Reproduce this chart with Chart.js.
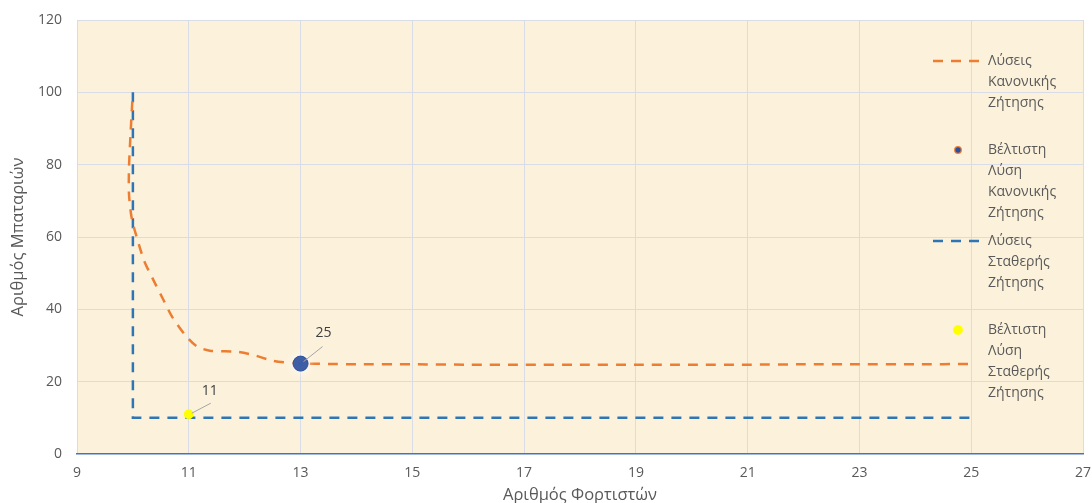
<!DOCTYPE html>
<html lang="el">
<head>
<meta charset="utf-8">
<title>Αριθμός Μπαταριών – Αριθμός Φορτιστών</title>
<script src="https://cdn.jsdelivr.net/npm/chart.js@4.4.1/dist/chart.umd.min.js"></script>
<style>
  html, body { margin: 0; padding: 0; background: #ffffff; }
  #wrap { position: relative; width: 1092px; height: 503px; }
</style>
</head>
<body>
<div id="wrap"><canvas id="chart" width="1092" height="503"></canvas></div>
<script>
// Solutions for normally distributed demand (chargers, batteries)
const normalX = [9.99, 9.96, 9.93, 9.93, 9.97, 10.03, 10.2, 10.37, 10.55, 10.7, 10.93, 11.15, 11.4, 11.85, 12.15, 12.5, 12.9, 13.5, 14, 15, 16, 17, 18, 19, 20, 21, 22, 23, 24, 25];
const normalY = [97.5, 89, 79, 72, 66, 62, 53.5, 48, 42.5, 38, 33, 29.7, 28.5, 28.3, 27.4, 25.8, 25.1, 24.9, 24.8, 24.8, 24.7, 24.7, 24.7, 24.7, 24.7, 24.7, 24.8, 24.8, 24.8, 24.9];

// Solutions for fixed demand
const fixedX = [10, 10, 25];
const fixedY = [100, 10, 10];

// Optimal solutions
const bestNormalX = [13];
const bestNormalY = [25];
const bestFixedX = [11];
const bestFixedY = [11];

// Axes
const xMin = 9, xMax = 27, xStep = 2;
const yMin = 0, yMax = 120, yStep = 20;
const xTitle = 'Αριθμός Φορτιστών';
const yTitle = 'Αριθμός Μπαταριών';

// Legend text, one array of lines per series
const seriesNames = [
  ['Λύσεις', 'Κανονικής', 'Ζήτησης'],
  ['Βέλτιστη', 'Λύση', 'Κανονικής', 'Ζήτησης'],
  ['Λύσεις', 'Σταθερής', 'Ζήτησης'],
  ['Βέλτιστη', 'Λύση', 'Σταθερής', 'Ζήτησης']
];

const toPoints = (xs, ys) => xs.map((x, i) => ({ x: x, y: ys[i] }));

const ORANGE = '#ED7D31';
const BLUE = '#2E75B6';
const DARKBLUE = '#2C509E';
const YELLOW = '#FFFF00';
const TEXT = '#595959';
const FONT = "'Open Sans', 'DejaVu Sans', sans-serif";

// Parchment-coloured plot area
const plotBackground = {
  id: 'plotBackground',
  beforeDraw(chart) {
    const { ctx, chartArea: a } = chart;
    ctx.save();
    ctx.fillStyle = '#FCF2DC';
    ctx.fillRect(a.left, a.top, a.right - a.left, a.bottom - a.top);
    ctx.restore();
  }
};

// Soft white halo behind marked points
const pointHalo = {
  id: 'pointHalo',
  beforeDatasetDraw(chart, args) {
    const ds = chart.data.datasets[args.index];
    if (ds.halo) {
      chart.ctx.save();
      chart.ctx.shadowColor = 'rgba(255,255,255,0.95)';
      chart.ctx.shadowBlur = ds.halo;
    }
  },
  afterDatasetDraw(chart, args) {
    const ds = chart.data.datasets[args.index];
    if (ds.halo) chart.ctx.restore();
  }
};

// Value labels with a short leader line
const valueLabels = {
  id: 'valueLabels',
  afterDatasetsDraw(chart) {
    const ctx = chart.ctx;
    chart.data.datasets.forEach((ds, i) => {
      if (!ds.valueLabel) return;
      const meta = chart.getDatasetMeta(i);
      meta.data.forEach((el, j) => {
        const o = ds.valueLabel;
        const px = el.x, py = el.y;
        ctx.save();
        ctx.strokeStyle = '#A6A6A6';
        ctx.lineWidth = 1;
        ctx.beginPath();
        ctx.moveTo(px + o.lx0, py + o.ly0);
        ctx.lineTo(px + o.lx1, py + o.ly1);
        ctx.stroke();
        ctx.fillStyle = '#404040';
        ctx.font = '14px ' + FONT;
        ctx.textAlign = 'center';
        ctx.textBaseline = 'middle';
        ctx.fillText(String(ds.data[j].y), px + o.tx, py + o.ty);
        ctx.restore();
      });
    });
  }
};

// Legend laid over the right side of the plot area, with wrapped names
const sideLegend = {
  id: 'sideLegend',
  afterDraw(chart) {
    const { ctx, chartArea: a } = chart;
    const itemTops = [41, 130, 221, 310];
    const lineH = 21;
    const sampleL = a.right - 150, sampleR = a.right - 100;
    const textX = a.right - 95;
    chart.data.datasets.forEach((ds, i) => {
      const y0 = a.top + itemTops[i];
      ctx.save();
      if (ds.showLine) {
        ctx.strokeStyle = ds.borderColor;
        ctx.lineWidth = ds.borderWidth;
        ctx.setLineDash(ds.borderDash || []);
        ctx.beginPath();
        ctx.moveTo(sampleL, y0);
        ctx.lineTo(sampleR, y0);
        ctx.stroke();
        ctx.setLineDash([]);
      } else {
        ctx.fillStyle = ds.backgroundColor;
        ctx.strokeStyle = ds.legendBorder || ds.backgroundColor;
        ctx.lineWidth = 1.2;
        ctx.beginPath();
        ctx.arc((sampleL + sampleR) / 2, y0, ds.legendRadius, 0, Math.PI * 2);
        ctx.fill();
        ctx.stroke();
      }
      ctx.fillStyle = TEXT;
      ctx.font = '14px ' + FONT;
      ctx.textAlign = 'left';
      ctx.textBaseline = 'middle';
      seriesNames[i].forEach((line, k) => ctx.fillText(line, textX, y0 + k * lineH));
      ctx.restore();
    });
  }
};

const gridColor = '#D8DCE6';

new Chart(document.getElementById('chart'), {
  type: 'scatter',
  data: {
    datasets: [
      {
        label: seriesNames[0].join(' '),
        data: toPoints(normalX, normalY),
        showLine: true,
        borderColor: ORANGE,
        backgroundColor: ORANGE,
        borderWidth: 2.5,
        borderDash: [10, 8],
        pointRadius: 0,
        pointHoverRadius: 0,
        tension: 0.25,
        order: 3
      },
      {
        label: seriesNames[1].join(' '),
        data: toPoints(bestNormalX, bestNormalY),
        showLine: false,
        backgroundColor: DARKBLUE,
        borderColor: DARKBLUE,
        borderWidth: 1,
        pointRadius: 7.5,
        legendRadius: 3.3,
        legendBorder: ORANGE,
        halo: 8,
        valueLabel: { lx0: 3, ly0: -2, lx1: 22, ly1: -17, tx: 23, ty: -31 },
        order: 1
      },
      {
        label: seriesNames[2].join(' '),
        data: toPoints(fixedX, fixedY),
        showLine: true,
        borderColor: BLUE,
        backgroundColor: BLUE,
        borderWidth: 2.5,
        borderDash: [10, 8],
        pointRadius: 0,
        pointHoverRadius: 0,
        tension: 0,
        order: 4
      },
      {
        label: seriesNames[3].join(' '),
        data: toPoints(bestFixedX, bestFixedY),
        showLine: false,
        backgroundColor: YELLOW,
        borderColor: YELLOW,
        borderWidth: 1,
        pointRadius: 4.5,
        legendRadius: 4.3,
        valueLabel: { lx0: 3, ly0: -1, lx1: 22, ly1: -11, tx: 21, ty: -23 },
        order: 2
      }
    ]
  },
  options: {
    responsive: false,
    animation: false,
    events: [],
    layout: { padding: { top: 20, right: 9, left: 0, bottom: 0 } },
    plugins: {
      legend: { display: false },
      tooltip: { enabled: false }
    },
    scales: {
      x: {
        type: 'linear',
        min: xMin, max: xMax,
        afterFit(scale) {
          scale.height = 49;
          scale.paddingLeft = 0;
          scale.paddingRight = 0;
        },
        ticks: {
          stepSize: xStep,
          color: TEXT,
          padding: 11,
          maxRotation: 0,
          font: { family: FONT, size: 14 }
        },
        grid: {
          color: gridColor,
          lineWidth: 1,
          drawTicks: false
        },
        border: { display: true, color: '#4472C4', width: 1.5 },
        title: {
          display: true,
          text: xTitle,
          color: TEXT,
          font: { family: FONT, size: 16.5, lineHeight: '16px' },
          padding: { top: 0, bottom: 0 }
        }
      },
      y: {
        type: 'linear',
        min: yMin, max: yMax,
        afterFit(scale) {
          scale.width = 77;
          scale.paddingTop = 0;
          scale.paddingBottom = 0;
        },
        ticks: {
          stepSize: yStep,
          color: TEXT,
          padding: 15,
          font: { family: FONT, size: 14 }
        },
        grid: {
          color: ctx => (ctx.tick && ctx.tick.value === yMin ? 'rgba(0,0,0,0)' : gridColor),
          lineWidth: 1,
          drawTicks: false
        },
        border: { display: false },
        title: {
          display: true,
          text: yTitle,
          color: TEXT,
          font: { family: FONT, size: 16.5, lineHeight: '18px' },
          padding: { top: 9, bottom: 0 }
        }
      }
    }
  },
  plugins: [plotBackground, pointHalo, valueLabels, sideLegend]
});
</script>
</body>
</html>
